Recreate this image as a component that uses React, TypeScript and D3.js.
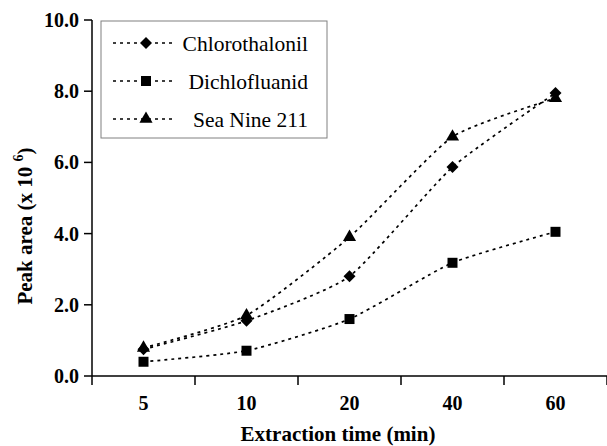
import React from 'react';
import * as d3 from 'd3';

const times = ['5', '10', '20', '40', '60'];
const chlorothalonil = [0.75, 1.55, 2.8, 5.87, 7.95];
const dichlofluanid = [0.4, 0.71, 1.6, 3.18, 4.05];
const seaNine = [0.79, 1.7, 3.9, 6.72, 7.8];
const yTicks = [0, 2, 4, 6, 8, 10];

const W = 607, H = 446;
const left = 92, right = 607, top = 20, bottom = 376;
const serif = 'Liberation Serif';

const series = [
  { name: 'Chlorothalonil', values: chlorothalonil, marker: 'diamond' },
  { name: 'Dichlofluanid', values: dichlofluanid, marker: 'square' },
  { name: 'Sea Nine 211', values: seaNine, marker: 'triangle' },
];

function Marker({ type, x, y }: { type: string; x: number; y: number }) {
  if (type === 'diamond') {
    const p = d3.symbol(d3.symbolSquare, 72)();
    return <path d={p || ''} transform={`translate(${x},${y}) rotate(45)`} fill="#000" />;
  }
  if (type === 'square') {
    const p = d3.symbol(d3.symbolSquare, 100)();
    return <path d={p || ''} transform={`translate(${x},${y})`} fill="#000" />;
  }
  const p = d3.symbol(d3.symbolTriangle, 75)();
  return <path d={p || ''} transform={`translate(${x},${y})`} fill="#000" />;
}

function Label(props: any) {
  const { children, ...rest } = props;
  return <text {...rest} fontFamily={serif} style={{ fontFamily: serif }}>{children}</text>;
}

export default function App() {
  const x = d3.scaleBand<string>().domain(times).range([left, right]).paddingInner(0).paddingOuter(0);
  const y = d3.scaleLinear().domain([0, 10]).range([bottom, top]);
  const line = d3.line<number>()
    .x((_, i) => (x(times[i]) ?? 0) + x.bandwidth() / 2)
    .y(d => y(d))
    .curve(d3.curveCardinal.tension(0.45));

  const bounds = [...times.map(t => x(t) ?? 0), right];
  const legendX = 101, legendY = 21, legendW = 226, legendH = 117;

  return (
    <svg width={W} height={H} style={{ position: 'absolute', left: 0, top: 0 }}>
      {series.map(s => (
        <path key={s.name} d={line(s.values) || ''} fill="none" stroke="#000"
          strokeWidth={1.7} strokeDasharray="3,4" />
      ))}
      {series.map(s => s.values.map((v, i) => (
        <Marker key={s.name + i} type={s.marker} x={(x(times[i]) ?? 0) + x.bandwidth() / 2} y={y(v)} />
      )))}

      <line x1={left} x2={left} y1={top} y2={bottom} stroke="#000" strokeWidth={1.5} />
      {yTicks.map(t => (
        <g key={t}>
          <line x1={left - 8} x2={left} y1={y(t)} y2={y(t)} stroke="#000" strokeWidth={1.5} />
          <Label x={79} y={y(t)} dy="0.35em" textAnchor="end" fontSize={20} fontWeight="bold">{t.toFixed(1)}</Label>
        </g>
      ))}

      <line x1={left} x2={right} y1={bottom} y2={bottom} stroke="#000" strokeWidth={1.5} />
      {bounds.map((b, i) => (
        <line key={i} x1={b} x2={b} y1={bottom} y2={bottom + 9} stroke="#000" strokeWidth={1.5} />
      ))}
      {times.map(t => (
        <Label key={t} x={(x(t) ?? 0) + x.bandwidth() / 2} y={403} dy="0.35em" textAnchor="middle"
          fontSize={20} fontWeight="bold">{t}</Label>
      ))}

      <Label x={338} y={434} dy="0.35em" textAnchor="middle" fontSize={21} fontWeight="bold">Extraction time (min)</Label>
      <Label transform="translate(32,226) rotate(-90)" textAnchor="middle" fontSize={21} fontWeight="bold">
        Peak area (x 10 <tspan dy={-9} fontSize={14}>6</tspan><tspan dy={9}>)</tspan>
      </Label>

      <rect x={legendX} y={legendY} width={legendW} height={legendH} fill="#fff" stroke="#808080" strokeWidth={1} />
      {series.map((s, i) => {
        const cy = 43 + i * 38;
        return (
          <g key={s.name}>
            <line x1={113} x2={176} y1={cy} y2={cy} stroke="#000" strokeWidth={1.7} strokeDasharray="3,4" />
            <Marker type={s.marker} x={146} y={cy} />
            <Label x={308} y={cy} dy="0.35em" textAnchor="end" fontSize={21.5}>{s.name}</Label>
          </g>
        );
      })}
    </svg>
  );
}
